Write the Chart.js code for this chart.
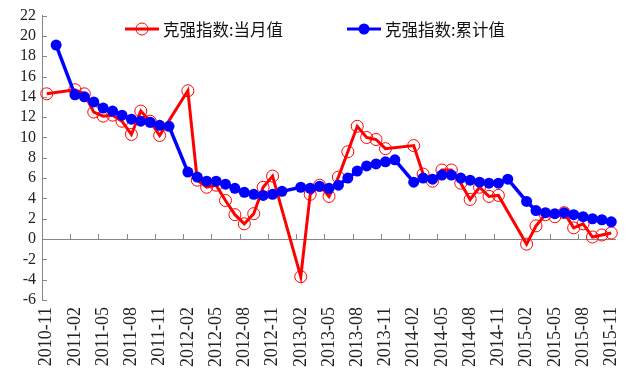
<!DOCTYPE html>
<html lang="zh">
<head>
  <meta charset="UTF-8">
  <title>克强指数</title>
  <script src="https://cdn.jsdelivr.net/npm/chart.js"></script>
  <style>
    body {
      margin: 0;
      background: #fff;
    }
    canvas {
      display: block;
    }
  </style>
</head>
<body>
  <canvas id="lineChart" width="640" height="375"></canvas>

  <script>
    const months = [
      '2010-11', '2010-12',
      '2011-01', '2011-02', '2011-03', '2011-04', '2011-05', '2011-06',
      '2011-07', '2011-08', '2011-09', '2011-10', '2011-11', '2011-12',
      '2012-01', '2012-02', '2012-03', '2012-04', '2012-05', '2012-06',
      '2012-07', '2012-08', '2012-09', '2012-10', '2012-11', '2012-12',
      '2013-01', '2013-02', '2013-03', '2013-04', '2013-05', '2013-06',
      '2013-07', '2013-08', '2013-09', '2013-10', '2013-11', '2013-12',
      '2014-01', '2014-02', '2014-03', '2014-04', '2014-05', '2014-06',
      '2014-07', '2014-08', '2014-09', '2014-10', '2014-11', '2014-12',
      '2015-01', '2015-02', '2015-03', '2015-04', '2015-05', '2015-06',
      '2015-07', '2015-08', '2015-09', '2015-10', '2015-11'
    ];

    const seriesNames = ['克强指数:当月值', '克强指数:累计值'];

    // 当月值 (no Dec / Jan points)
    const monthly = [
      14.3, null,
      null, 14.7, 14.3, 12.5, 12.1, 12.2, 11.6, 10.3, 12.6, 11.6, 10.2, null,
      null, 14.6, 5.8, 5.1, 5.3, 3.8, 2.4, 1.5, 2.5, 5.1, 6.2, null,
      null, -3.7, 4.4, 5.3, 4.2, 6.1, 8.6, 11.1, 10.0, 9.8, 8.9, null,
      null, 9.2, 6.4, 5.7, 6.8, 6.8, 5.5, 3.9, 5.1, 4.2, 4.3, null,
      null, -0.5, 1.3, 2.4, 2.2, 2.6, 1.1, 1.5, 0.2, 0.4, 0.6
    ];

    // 累计值 (no Jan points)
    const cumulative = [
      null, 19.1,
      null, 14.2, 14.0, 13.5, 12.9, 12.6, 12.2, 11.8, 11.6, 11.5, 11.2, 11.1,
      null, 6.6, 6.1, 5.7, 5.7, 5.4, 5.0, 4.6, 4.4, 4.3, 4.4, 4.7,
      null, 5.1, 5.0, 5.2, 5.0, 5.3, 6.0, 6.7, 7.2, 7.4, 7.6, 7.8,
      null, 5.6, 6.0, 5.9, 6.3, 6.3, 6.0, 5.8, 5.6, 5.5, 5.5, 5.9,
      null, 3.7, 2.8, 2.6, 2.5, 2.6, 2.4, 2.2, 2.0, 1.9, 1.7
    ];

    const RED = '#ff0000';
    const BLUE = '#0000ff';
    const AXIS = '#868686';
    const numFont = '"Liberation Serif", "Times New Roman", serif';
    const cjkFont = '"Noto Sans CJK SC", sans-serif';

    // zero line, x tick marks every 3 months, inward y ticks
    const axisMarks = {
      id: 'axisMarks',
      beforeDatasetsDraw(chart) {
        const { ctx, chartArea, scales: { x, y } } = chart;
        const y0 = y.getPixelForValue(0);
        const half = (x.getPixelForValue(1) - x.getPixelForValue(0)) / 2;
        ctx.save();
        ctx.strokeStyle = AXIS;
        ctx.lineWidth = 1;
        ctx.beginPath();
        ctx.moveTo(chartArea.left, Math.round(y0) + 0.5);
        ctx.lineTo(chartArea.right, Math.round(y0) + 0.5);
        for (let i = 3; i < months.length - 1; i += 3) {
          const px = Math.round(x.getPixelForValue(i) - half) + 0.5;
          ctx.moveTo(px, y0);
          ctx.lineTo(px, y0 - 5);
        }
        y.ticks.forEach(t => {
          const py = Math.round(y.getPixelForValue(t.value)) + 0.5;
          ctx.moveTo(chartArea.left, py);
          ctx.lineTo(chartArea.left + 5, py);
        });
        ctx.stroke();
        ctx.restore();
      }
    };

    // legend drawn inside the plot, line + marker like the original
    const innerLegend = {
      id: 'innerLegend',
      afterDraw(chart) {
        const { ctx } = chart;
        const items = [
          { text: seriesNames[0], color: RED, filled: false, x: 125 },
          { text: seriesNames[1], color: BLUE, filled: true, x: 347 }
        ];
        const ly = 29;
        ctx.save();
        items.forEach(it => {
          ctx.strokeStyle = it.color;
          ctx.lineWidth = 3;
          ctx.beginPath();
          ctx.moveTo(it.x, ly);
          ctx.lineTo(it.x + 34, ly);
          ctx.stroke();
          ctx.beginPath();
          ctx.arc(it.x + 17, ly, it.filled ? 5.5 : 6, 0, Math.PI * 2);
          if (it.filled) {
            ctx.fillStyle = it.color;
            ctx.fill();
          } else {
            ctx.lineWidth = 1;
            ctx.stroke();
          }
          ctx.fillStyle = '#111';
          ctx.font = '16.5px ' + cjkFont;
          ctx.textBaseline = 'middle';
          ctx.fillText(it.text, it.x + 38, ly + 1);
        });
        ctx.restore();
      }
    };

    new Chart(document.getElementById('lineChart'), {
      type: 'line',
      data: {
        labels: months,
        datasets: [
          {
            label: seriesNames[1],
            data: cumulative,
            borderColor: BLUE,
            backgroundColor: BLUE,
            borderWidth: 3.5,
            pointRadius: 5.5,
            pointBackgroundColor: BLUE,
            pointBorderWidth: 0,
            spanGaps: true,
            tension: 0
          },
          {
            label: seriesNames[0],
            data: monthly,
            borderColor: RED,
            backgroundColor: 'rgba(0,0,0,0)',
            borderWidth: 3,
            pointRadius: 6,
            pointBorderWidth: 1,
            pointBorderColor: RED,
            pointBackgroundColor: 'rgba(0,0,0,0)',
            spanGaps: true,
            tension: 0
          }
        ]
      },
      options: {
        responsive: false,
        animation: false,
        layout: { padding: { top: 13, right: 11, left: 0, bottom: 0 } },
        plugins: {
          legend: { display: false },
          tooltip: { enabled: false }
        },
        scales: {
          x: {
            offset: true,
            grid: { display: false, drawTicks: false },
            border: { display: false },
            ticks: {
              autoSkip: false,
              minRotation: 90,
              maxRotation: 90,
              padding: 7,
              color: '#222',
              font: { family: numFont, size: 18 },
              callback: function (val, idx) {
                return idx % 3 === 0 ? this.getLabelForValue(val) : '';
              }
            },
            afterFit: scale => { scale.height = 75; }
          },
          y: {
            min: -6,
            max: 22,
            grid: { display: false, drawTicks: false },
            border: { display: true, color: AXIS, width: 1 },
            ticks: {
              stepSize: 2,
              autoSkip: false,
              padding: 6,
              color: '#222',
              font: { family: numFont, size: 16 }
            },
            afterFit: scale => { scale.width = 42; }
          }
        }
      },
      plugins: [axisMarks, innerLegend]
    });
  </script>
</body>
</html>
